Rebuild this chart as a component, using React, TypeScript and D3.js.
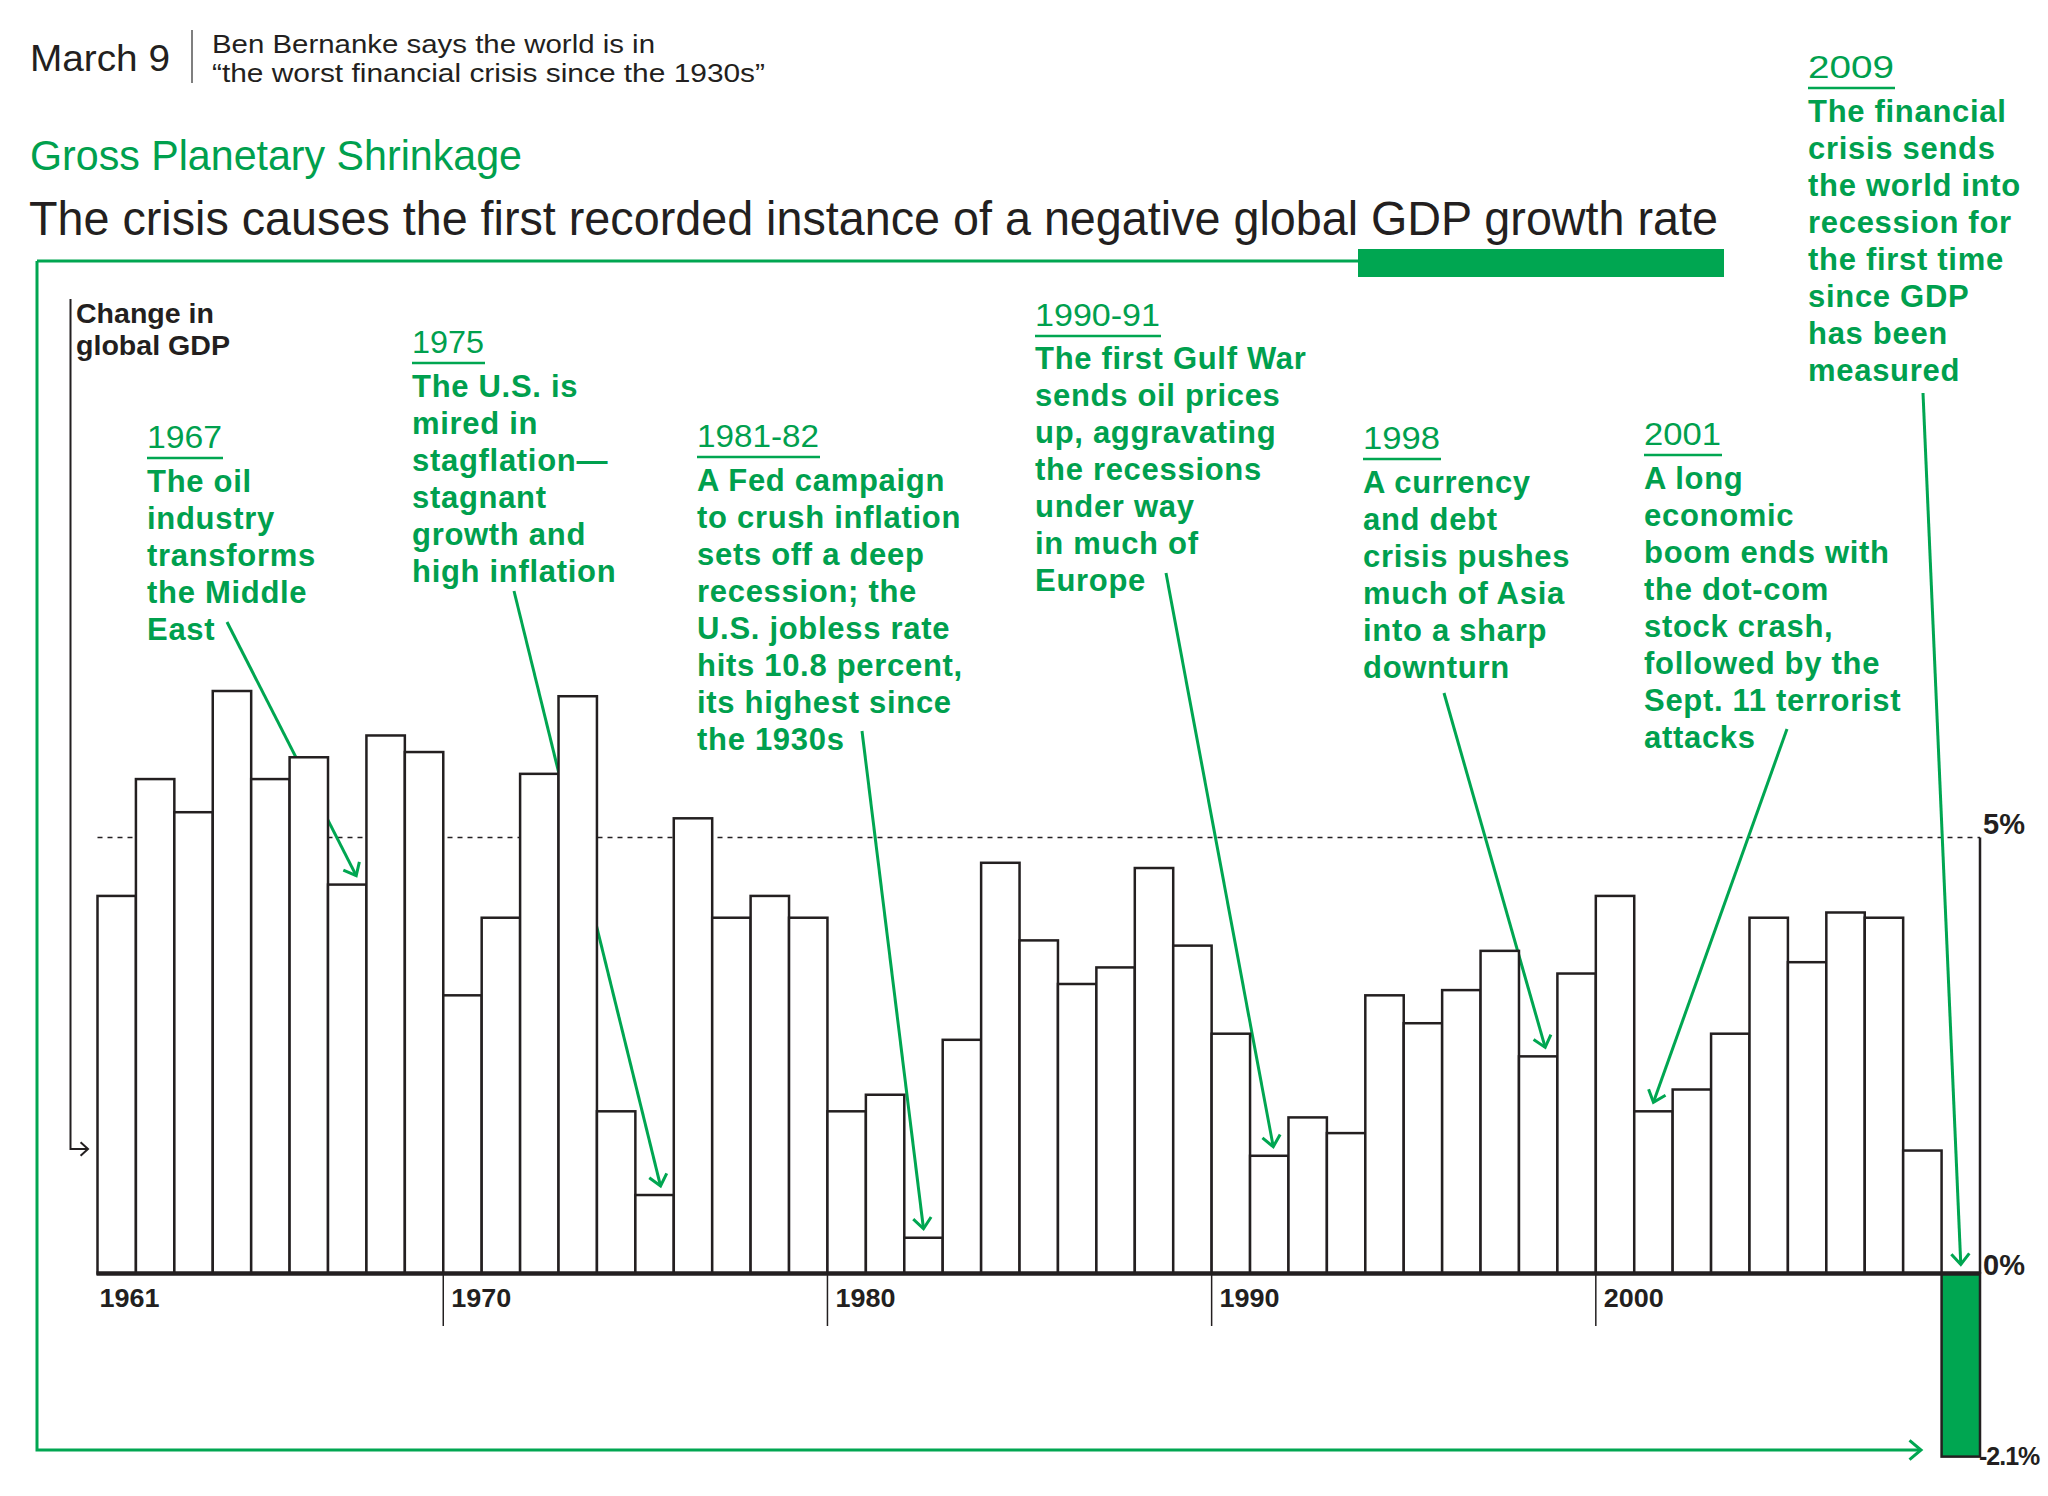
import React from 'react';
import * as d3 from 'd3';

// ---------- DATA ----------
const years = [
  1961, 1962, 1963, 1964, 1965, 1966, 1967, 1968, 1969,
  1970, 1971, 1972, 1973, 1974, 1975, 1976, 1977, 1978, 1979,
  1980, 1981, 1982, 1983, 1984, 1985, 1986, 1987, 1988, 1989,
  1990, 1991, 1992, 1993, 1994, 1995, 1996, 1997, 1998, 1999,
  2000, 2001, 2002, 2003, 2004, 2005, 2006, 2007, 2008, 2009,
];
const growth = [
  4.33, 5.67, 5.29, 6.68, 5.67, 5.92, 4.46, 6.17, 5.98,
  3.19, 4.08, 5.73, 6.62, 1.86, 0.9, 5.22, 4.08, 4.33, 4.08,
  1.86, 2.05, 0.41, 2.68, 4.71, 3.82, 3.32, 3.51, 4.65, 3.76,
  2.75, 1.35, 1.79, 1.61, 3.19, 2.87, 3.25, 3.7, 2.49, 3.44,
  4.33, 1.86, 2.11, 2.75, 4.08, 3.57, 4.14, 4.08, 1.41, -2.1,
];
const tickYears = [1970, 1980, 1990, 2000];
const labelYears = [1961, 1970, 1980, 1990, 2000];
const valueTicks = [5, 0, -2.1];
const valueTickLabels = ['5%', '0%', '-2.1%'];

const annotations = [
  { year: 1967, head: '1967', lines: ['The oil', 'industry', 'transforms', 'the Middle', 'East'] },
  { year: 1975, head: '1975', lines: ['The U.S. is', 'mired in', 'stagflation\u2014', 'stagnant', 'growth and', 'high inflation'] },
  { year: 1982, head: '1981-82', lines: ['A Fed campaign', 'to crush inflation', 'sets off a deep', 'recession; the', 'U.S. jobless rate', 'hits 10.8 percent,', 'its highest since', 'the 1930s'] },
  { year: 1991, head: '1990-91', lines: ['The first Gulf War', 'sends oil prices', 'up, aggravating', 'the recessions', 'under way', 'in much of', 'Europe'] },
  { year: 1998, head: '1998', lines: ['A currency', 'and debt', 'crisis pushes', 'much of Asia', 'into a sharp', 'downturn'] },
  { year: 2001, head: '2001', lines: ['A long', 'economic', 'boom ends with', 'the dot-com', 'stock crash,', 'followed by the', 'Sept. 11 terrorist', 'attacks'] },
  { year: 2009, head: '2009', lines: ['The financial', 'crisis sends', 'the world into', 'recession for', 'the first time', 'since GDP', 'has been', 'measured'] },
];

// ---------- LAYOUT (positions / styles) ----------
const W = 2048;
const H = 1496;
const GREEN = '#00a651';
const GREEN_TXT = '#00a04e';
const INK = '#231f20';
const FONT = '"Liberation Sans", Arial, Helvetica, sans-serif';

const annLayout: Record<number, { x: number; hy: number; by: number; uw: number; sx: number; sy: number; dx: number }> = {
  1967: { x: 147, hy: 448, by: 492, uw: 76, sx: 227, sy: 622, dx: 9 },
  1975: { x: 412, hy: 353, by: 397, uw: 73, sx: 514, sy: 591, dx: 6 },
  1982: { x: 697, hy: 447, by: 491, uw: 123, sx: 862, sy: 731, dx: 0 },
  1991: { x: 1035, hy: 326, by: 369, uw: 126, sx: 1166, sy: 573, dx: 4 },
  1998: { x: 1363, hy: 449, by: 493, uw: 78, sx: 1444, sy: 693, dx: 7 },
  2001: { x: 1644, hy: 445, by: 489, uw: 78, sx: 1787, sy: 729, dx: 0 },
  2009: { x: 1808, hy: 78, by: 122, uw: 87, sx: 1923, sy: 393, dx: 0 },
};

function chevron(x1: number, y1: number, x2: number, y2: number, len = 13, ang = 38) {
  const a = Math.atan2(y2 - y1, x2 - x1);
  const r = (ang * Math.PI) / 180;
  const p1 = [x2 - len * Math.cos(a - r), y2 - len * Math.sin(a - r)];
  const p2 = [x2 - len * Math.cos(a + r), y2 - len * Math.sin(a + r)];
  return `M${p1[0]},${p1[1]}L${x2},${y2}L${p2[0]},${p2[1]}`;
}

export default function App() {
  const x = d3.scaleBand<number>().domain(years).range([97.5, 1980]).padding(0);
  const y = d3.scaleLinear().domain([0, 5]).range([1273.5, 837.5]);
  const bw = x.bandwidth();
  const x0 = x(years[0]) as number;
  const xEnd = (x(years[years.length - 1]) as number) + bw;
  const valueOf = (yr: number) => growth[years.indexOf(yr)];

  return (
    <svg width={W} height={H} viewBox={`0 0 ${W} ${H}`} style={{ position: 'absolute', left: 0, top: 0, background: '#fff' }} fontFamily={FONT}>
      <rect x={0} y={0} width={W} height={H} fill="#fff" />

      {/* header */}
      <text x={30} y={71} fontSize={37} fill={INK} textLength={140} lengthAdjust="spacingAndGlyphs">March 9</text>
      <line x1={192} x2={192} y1={30} y2={83} stroke="#555" strokeWidth={1.5} />
      <text x={212} y={53} fontSize={26} fill={INK} textLength={443} lengthAdjust="spacingAndGlyphs">Ben Bernanke says the world is in</text>
      <text x={212} y={82} fontSize={26} fill={INK} textLength={553} lengthAdjust="spacingAndGlyphs">{'\u201Cthe worst financial crisis since the 1930s\u201D'}</text>
      <text x={30} y={170} fontSize={42} fill={GREEN_TXT} textLength={492} lengthAdjust="spacingAndGlyphs">Gross Planetary Shrinkage</text>
      <text x={29} y={235} fontSize={49} fill={INK} textLength={1689} lengthAdjust="spacingAndGlyphs">The crisis causes the first recorded instance of a negative global GDP growth rate</text>

      {/* green frame */}
      <path d="M37,261 H1358" fill="none" stroke={GREEN} strokeWidth={3} />
      <rect x={1358} y={249} width={366} height={28} fill={GREEN} />
      <path d="M37,261 V1450 H1920" fill="none" stroke={GREEN} strokeWidth={3} />
      <path d={chevron(1800, 1450, 1921, 1450, 15, 40)} fill="none" stroke={GREEN} strokeWidth={3} />

      {/* y axis label & arrow */}
      <path d="M70.5,299 V1149 H87" fill="none" stroke={INK} strokeWidth={2} />
      <path d={chevron(70, 1149, 88, 1149, 10, 42)} fill="none" stroke={INK} strokeWidth={2} />
      <text x={76} y={323} fontSize={27} fontWeight={700} fill={INK} textLength={138} lengthAdjust="spacingAndGlyphs">Change in</text>
      <text x={76} y={355} fontSize={27} fontWeight={700} fill={INK} textLength={154} lengthAdjust="spacingAndGlyphs">global GDP</text>

      {/* 5% reference line */}
      <line x1={x0} x2={xEnd} y1={y(5)} y2={y(5)} stroke={INK} strokeWidth={1.5} strokeDasharray="5 5" />

      {/* annotation arrows (behind the bars) */}
      {annotations.map((a) => {
        const L = annLayout[a.year];
        const tx = (x(a.year) as number) + bw / 2 + L.dx;
        const v = valueOf(a.year);
        const ty = y(Math.max(v, 0)) - 9;
        return (
          <g key={'arr' + a.year} stroke={GREEN} strokeWidth={3} fill="none">
            <line x1={L.sx} y1={L.sy} x2={tx} y2={ty} />
            <path d={chevron(L.sx, L.sy, tx, ty, 14, 40)} />
          </g>
        );
      })}

      {/* bars */}
      {years.map((yr, i) => {
        const v = growth[i];
        const top = y(Math.max(v, 0));
        const bot = y(Math.min(v, 0));
        return (
          <rect key={yr} x={x(yr)} y={top} width={bw} height={bot - top}
            fill={v < 0 ? GREEN : '#fff'} stroke={INK} strokeWidth={2.5} />
        );
      })}

      {/* right axis line */}
      <line x1={xEnd} x2={xEnd} y1={y(5)} y2={y(0)} stroke={INK} strokeWidth={2.5} />

      {/* baseline */}
      <line x1={x0 - 1} x2={xEnd} y1={y(0)} y2={y(0)} stroke={INK} strokeWidth={4.5} />

      {/* year ticks */}
      {tickYears.map((yr) => (
        <line key={'t' + yr} x1={x(yr)} x2={x(yr)} y1={y(0)} y2={1326} stroke={INK} strokeWidth={1.5} />
      ))}
      {labelYears.map((yr) => (
        <text key={'l' + yr} x={(x(yr) as number) + (yr === 1961 ? 2 : 8)} y={1307} fontSize={26} fontWeight={700} fill={INK}
          textLength={60} lengthAdjust="spacingAndGlyphs">{String(yr)}</text>
      ))}

      {/* value labels */}
      {valueTicks.map((v, i) =>
        v < 0 ? (
          <text key={'v' + i} x={xEnd - 1} y={y(v) + 8} fontSize={25} fontWeight={700} fill={INK} letterSpacing={-1}>
            {valueTickLabels[i]}
          </text>
        ) : (
          <text key={'v' + i} x={xEnd + 3} y={y(v) + (v === 5 ? -4 : 1)} fontSize={29} fontWeight={700} fill={INK}>
            {valueTickLabels[i]}
          </text>
        )
      )}

      {/* annotation texts */}
      {annotations.map((a) => {
        const L = annLayout[a.year];
        return (
          <g key={'txt' + a.year} fill={GREEN_TXT}>
            <text x={L.x} y={L.hy} fontSize={31} textLength={L.uw - 1} lengthAdjust="spacingAndGlyphs">{a.head}</text>
            <line x1={L.x} x2={L.x + L.uw} y1={L.hy + 10} y2={L.hy + 10} stroke={GREEN} strokeWidth={2.5} />
            {a.lines.map((ln, j) => (
              <text key={j} x={L.x} y={L.by + j * 37} fontSize={31} fontWeight={700} letterSpacing={0.7}>{ln}</text>
            ))}
          </g>
        );
      })}
    </svg>
  );
}
